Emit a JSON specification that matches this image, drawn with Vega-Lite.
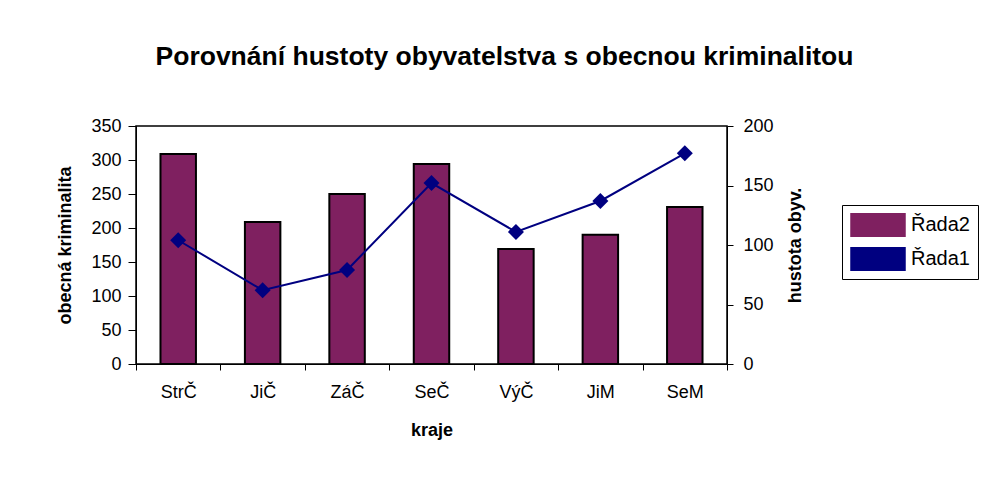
{
  "$schema": "https://vega.github.io/schema/vega-lite/v6.json",
  "width": 591,
  "height": 238,
  "autosize": {"type": "none"},
  "padding": {"left": 136, "top": 126, "right": 262, "bottom": 113},
  "background": "white",
  "title": {
    "text": "Porovnání hustoty obyvatelstva s obecnou kriminalitou",
    "font": "Liberation Sans",
    "fontSize": 26.5,
    "fontWeight": "bold",
    "color": "black",
    "anchor": "middle",
    "baseline": "alphabetic",
    "dx": 73,
    "offset": 26
  },
  "config": {
    "view": {"stroke": "black", "strokeWidth": 1.5},
    "font": "Liberation Sans",
    "axis": {
      "labelFont": "Liberation Sans",
      "titleFont": "Liberation Sans",
      "labelFontSize": 18,
      "titleFontSize": 18,
      "titleFontWeight": "bold",
      "labelColor": "black",
      "titleColor": "black",
      "domainColor": "black",
      "tickColor": "black",
      "grid": false
    }
  },
  "data": {
    "values": [
      {"kraj": "StrČ", "kriminalita": 309, "hustota": 104},
      {"kraj": "JiČ", "kriminalita": 209, "hustota": 62},
      {"kraj": "ZáČ", "kriminalita": 250, "hustota": 79},
      {"kraj": "SeČ", "kriminalita": 294, "hustota": 152},
      {"kraj": "VýČ", "kriminalita": 169, "hustota": 111},
      {"kraj": "JiM", "kriminalita": 190, "hustota": 137},
      {"kraj": "SeM", "kriminalita": 231, "hustota": 177}
    ]
  },
  "encoding": {
    "x": {
      "field": "kraj",
      "type": "nominal",
      "sort": null,
      "scale": {"paddingInner": 0, "paddingOuter": 0},
      "axis": {
        "title": "kraje",
        "labelAngle": 0,
        "tickBand": "extent",
        "tickSize": 6,
        "labelPadding": 13,
        "titlePadding": 20
      }
    }
  },
  "layer": [
    {
      "mark": {"type": "bar", "width": {"band": 0.42}, "stroke": "black", "strokeWidth": 2},
      "encoding": {
        "y": {
          "field": "kriminalita",
          "type": "quantitative",
          "scale": {"domain": [0, 350], "nice": false},
          "axis": {
            "title": "obecná kriminalita",
            "values": [0, 50, 100, 150, 200, 250, 300, 350],
            "tickSize": 8,
            "labelPadding": 7,
            "titlePadding": 16
          }
        },
        "color": {
          "datum": "Řada2",
          "type": "nominal",
          "scale": {"domain": ["Řada2", "Řada1"], "range": ["#7F2060", "#000080"]},
          "legend": {
            "title": null,
            "orient": "none",
            "legendX": 706,
            "legendY": 79,
            "strokeColor": "black",
            "fillColor": "white",
            "padding": 8,
            "symbolSize": 2916,
            "clipHeight": 24,
            "rowPadding": 10,
            "labelFont": "Liberation Sans",
            "labelFontSize": 20,
            "labelColor": "black",
            "labelOffset": 5
          }
        }
      }
    },
    {
      "mark": {
        "type": "line",
        "strokeWidth": 2,
        "point": {"shape": "diamond", "filled": true, "size": 256, "opacity": 1}
      },
      "encoding": {
        "y": {
          "field": "hustota",
          "type": "quantitative",
          "scale": {"domain": [0, 200], "nice": false},
          "axis": {
            "orient": "right",
            "title": "hustota obyv.",
            "titleAngle": 270,
            "titleBaseline": "top",
            "values": [0, 50, 100, 150, 200],
            "tickSize": 6,
            "labelPadding": 10,
            "titlePadding": 13
          }
        },
        "color": {"datum": "Řada1", "type": "nominal"}
      }
    }
  ],
  "resolve": {"scale": {"y": "independent"}}
}
